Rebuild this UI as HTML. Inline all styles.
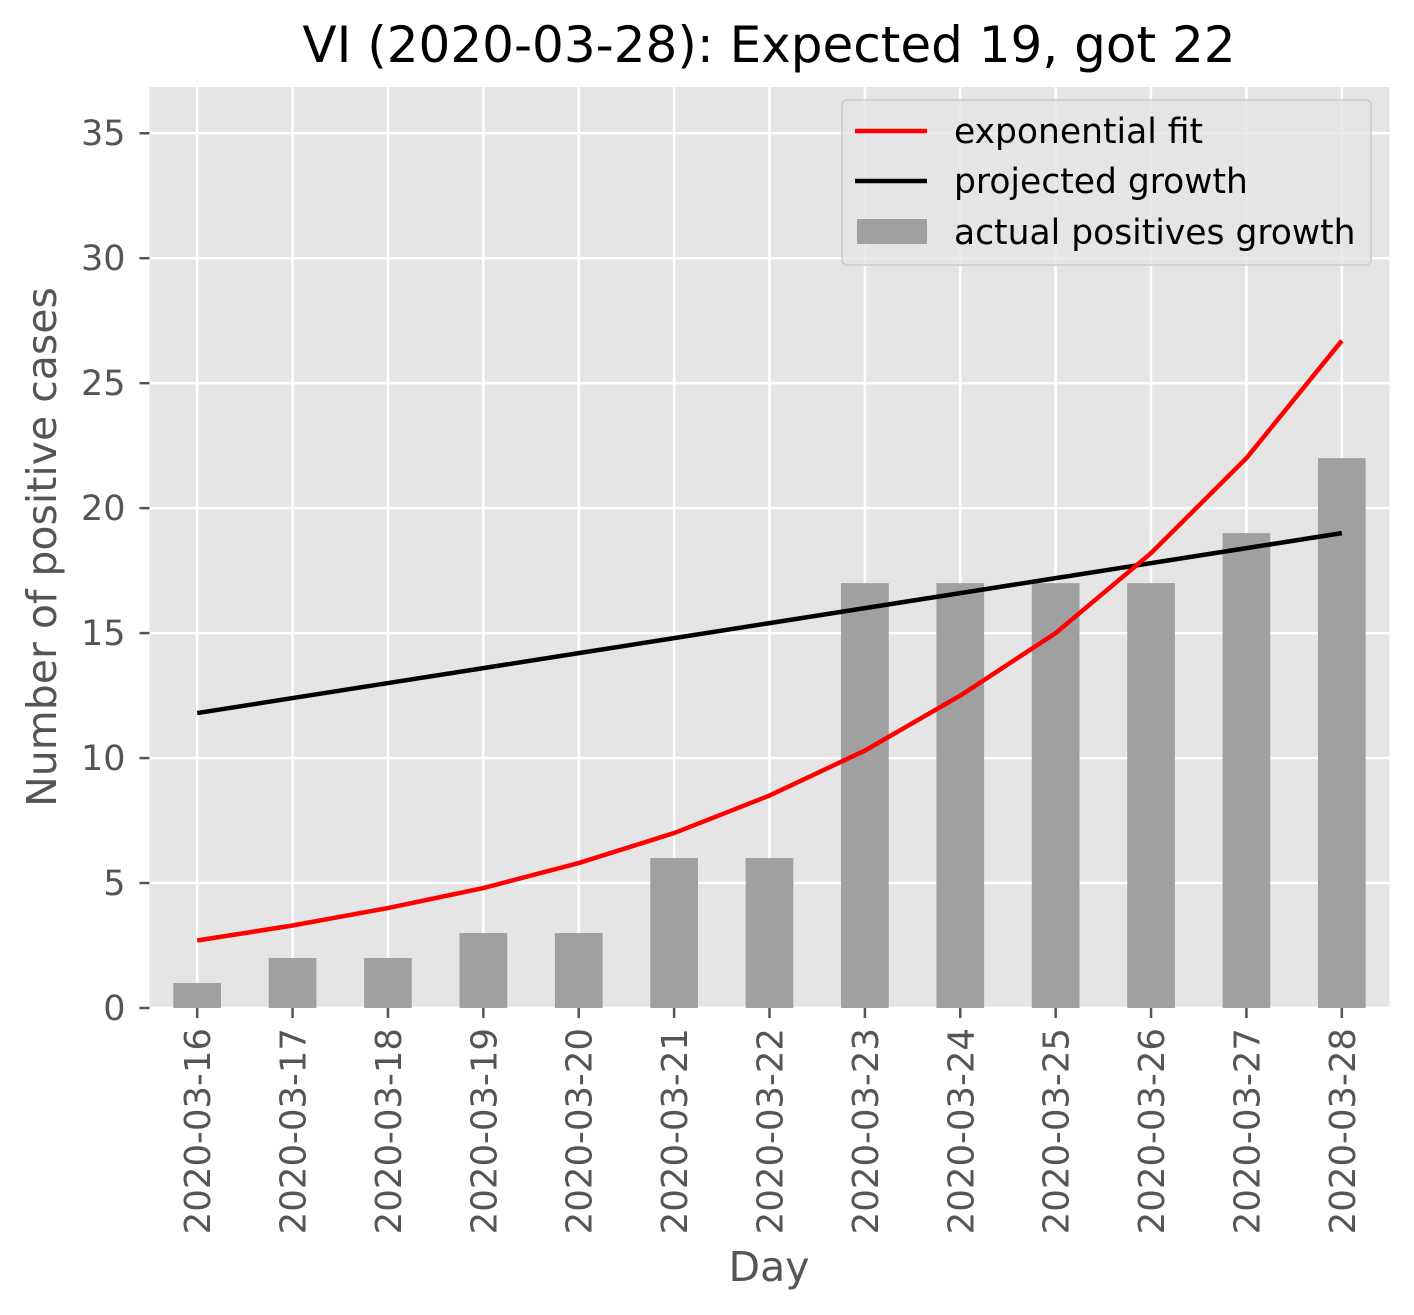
<!DOCTYPE html>
<html><head><meta charset="utf-8"><style>
html,body{margin:0;padding:0;background:#fff;}
svg{display:block;font-family:"DejaVu Sans","Liberation Sans",sans-serif;}
</style></head><body>
<svg id="chart" width="1414" height="1315" viewBox="0 0 1414 1315"></svg>
<script>
const categories=["2020-03-16","2020-03-17","2020-03-18","2020-03-19","2020-03-20","2020-03-21","2020-03-22","2020-03-23","2020-03-24","2020-03-25","2020-03-26","2020-03-27","2020-03-28"];
const actualValues=[1,2,2,3,3,6,6,17,17,17,17,19,22];
const expFitValues=[2.7,3.3,4.0,4.8,5.8,7.0,8.5,10.3,12.5,15.0,18.2,22.0,26.7];
const projectedValues=[11.8,12.4,13.0,13.6,14.2,14.8,15.4,16.0,16.6,17.2,17.8,18.4,19.0];
const yTicks=[0,5,10,15,20,25,30,35];

const NS="http://www.w3.org/2000/svg";
const svg=document.getElementById('chart');
const L=149.5,R=1389.5,T=87,B=1008;
const yMax=36.85;
function xs(i){return L+(i+0.5)*(R-L)/categories.length;}
function ys(v){return B-v*(B-T)/yMax;}
function mk(tag,attrs,parent){const e=document.createElementNS(NS,tag);for(const k in attrs)e.setAttribute(k,attrs[k]);(parent||svg).appendChild(e);return e;}

const bg=mk('rect',{x:L,y:T,width:R-L,height:B-T,fill:'#e5e5e5'});


yTicks.forEach(v=>{
  const g=mk('line',{x1:L,x2:R,y1:ys(v),y2:ys(v),stroke:'#fff','stroke-width':2.5});
  
  
  mk('line',{x1:L-10,x2:L,y1:ys(v),y2:ys(v),stroke:'#555','stroke-width':2.5});
  const t=mk('text',{x:L-24,y:ys(v)+12,'text-anchor':'end','font-size':35,fill:'#555'});
  t.textContent=v;
  
  
});
categories.forEach((c,i)=>{
  const g=mk('line',{x1:xs(i),x2:xs(i),y1:T,y2:B,stroke:'#fff','stroke-width':2.5});
  
  
  mk('line',{x1:xs(i),x2:xs(i),y1:B,y2:B+10,stroke:'#555','stroke-width':2.5});
  const t=mk('text',{x:0,y:0,'text-anchor':'end','font-size':35.5,fill:'#555',transform:`translate(${xs(i)+13},${B+20}) rotate(-90)`});
  t.textContent=c;
  
  
});
const bw=0.5*(R-L)/categories.length;
actualValues.forEach((v,i)=>{
  const b=mk('rect',{x:xs(i)-bw/2,y:ys(v),width:bw,height:B-ys(v),fill:'#a0a0a0'});
  
  
});
function line(vals,color,name){
  const p=mk('polyline',{points:vals.map((v,i)=>xs(i)+','+ys(v)).join(' '),fill:'none',stroke:color,'stroke-width':4.5});
  
  
}
line(projectedValues,'#000','projected-growth-line');
line(expFitValues,'#ff0000','exponential-fit-line');
</script>
<div style="position:absolute;left:0;top:0;width:1414px;height:1315px;pointer-events:none">
<svg width="1414" height="1315" style="position:absolute;left:0;top:0">
<text x="769" y="62" text-anchor="middle" font-size="50" fill="#000" font-family="DejaVu Sans,Liberation Sans,sans-serif">VI (2020-03-28): Expected 19, got 22</text>
<text x="769" y="1281" text-anchor="middle" font-size="41" fill="#555" font-family="DejaVu Sans,Liberation Sans,sans-serif">Day</text>
<text transform="translate(56,547) rotate(-90)" text-anchor="middle" font-size="41" fill="#555" font-family="DejaVu Sans,Liberation Sans,sans-serif">Number of positive cases</text>
<g font-family="DejaVu Sans,Liberation Sans,sans-serif" font-size="34.5">
<rect x="842" y="100" width="529" height="165" rx="5" fill="#e5e5e5" fill-opacity="0.8" stroke="#ccc" stroke-width="1.5"/>
<line x1="855" x2="927" y1="131" y2="131" stroke="#ff0000" stroke-width="4.5"/>
<text x="954" y="143" fill="#000">exponential fit</text>
<line x1="855" x2="927" y1="181" y2="181" stroke="#000" stroke-width="4.5"/>
<text x="954" y="193" fill="#000">projected growth</text>
<rect x="857" y="219" width="70" height="25" fill="#a0a0a0"/>
<text x="954" y="244" fill="#000">actual positives growth</text>
</g>
</svg>
</div>
</body></html>
